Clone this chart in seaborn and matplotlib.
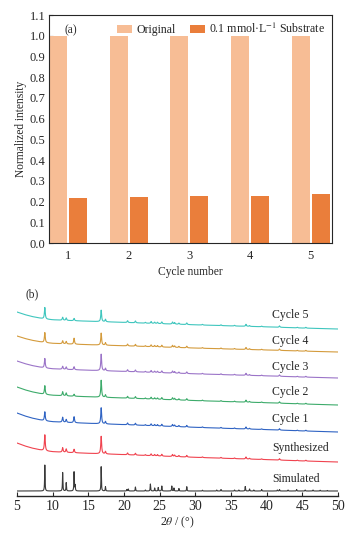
import numpy as np
import pandas as pd
import matplotlib
matplotlib.use("Agg")
import matplotlib.pyplot as plt
import seaborn as sns

sns.set_style("ticks")
plt.rcParams["font.family"] = ["Liberation Serif", "DejaVu Serif"]
plt.rcParams["mathtext.fontset"] = "stix"
plt.rcParams["font.size"] = 8

# ---- (a) normalized intensity per cycle
cycles = ["1", "2", "3", "4", "5"]
original = [1.0, 1.0, 1.0, 1.0, 1.0]
substrate = [0.215, 0.220, 0.225, 0.228, 0.238]
group_names = ["Original", "0.1 mmol\u00b7L$^{-1}$ Substrate"]

# ---- (b) XRD patterns, peak positions (2theta) and heights
exp_peaks = [8.9, 11.4, 11.9, 13.0, 16.8,
             17.4, 20.5, 21.6, 23.0, 23.8, 24.3, 24.7, 25.3, 26.8, 27.1, 27.7,
             28.8, 31.0, 33.6, 35.5, 37.1, 37.6, 39.3, 41.8, 44.3, 45.5]
minor_heights = [2.5, 1.8, 1.8, 0.8, 1.8, 1.3, 1.3, 1.8, 2.0, 1.5, 1.2,
                 1.6, 0.7, 0.8, 0.7, 2.0, 0.8, 0.6, 1.4, 0.6, 0.8]
main_cycle5 = [11.5, 3.0, 2.5, 2.3, 11.5]
main_cycle4 = [10.0, 3.0, 2.5, 6.0, 12.0]
main_cycle3 = [9.5, 3.0, 2.5, 3.0, 16.5]
main_cycle2 = [8.7, 4.0, 3.0, 2.0, 17.0]
main_cycle1 = [9.0, 5.0, 3.0, 6.0, 16.0]
main_synth = [16.0, 4.5, 3.5, 3.5, 17.5]

# background shape (relative to the value at 50 deg)
bg_x = [5, 6, 7, 8, 9, 10, 12, 15, 17, 20, 25, 30, 35, 40, 45, 50]
bg_rel = [17.5, 15, 13, 11.5, 10.2, 9.5, 8.8, 8, 7.5, 6.8, 5.5, 4.3, 3.2, 2.2, 1, 0]

# pattern name, baseline at 50 deg, low-angle drop, main peaks
pattern_names = ["Cycle 5", "Cycle 4", "Cycle 3", "Cycle 2", "Cycle 1", "Synthesized"]
pattern_base = [167, 144, 118, 91, 64, 34]
pattern_drop = [17, 16, 17, 18, 19, 19]
pattern_main = [main_cycle5, main_cycle4, main_cycle3, main_cycle2, main_cycle1, main_synth]
label_y = [181, 155, 129, 104, 77, 48]

sim_peaks = [8.9, 11.4, 11.9, 13.0, 13.15, 16.8, 17.4, 20.4, 20.6, 21.6, 23.0, 23.7,
             24.3, 24.8, 25.3, 26.7, 27.0, 27.7, 28.8, 31.0, 33.0, 33.6, 35.5, 36.1,
             37.0, 37.6, 38.2, 39.3, 41.5, 41.8, 43.0, 44.2, 45.4, 46.5, 47.5, 48.5]
sim_heights = [26, 18.5, 8.3, 19, 6, 24.3, 4.3, 1.5, 2, 4, 1, 7, 3, 3.5, 5, 5, 3, 2.5,
               4.3, 0.8, 1, 1.5, 1, 1, 4.5, 2, 1, 1.5, 1, 1.5, 1, 1.5, 1, 1, 0.8, 0.5]
sim_base = 5

colors = ["#3FC6BE", "#D49B3C", "#9B74C8", "#3DAB6B", "#2F63C3", "#F0434F"]
sim_color = "#3A3A3A"
bar_colors = ["#F7BD95", "#EA7E3B"]

two_theta = np.arange(5, 50.0001, 0.02)


def profile(peaks, heights, hw):
    out = np.zeros_like(two_theta)
    for p, h in zip(peaks, heights):
        out += h * hw**2 / ((two_theta - p) ** 2 + hw**2)
    return out


rows = []
for name, base, drop, main in zip(pattern_names, pattern_base, pattern_drop, pattern_main):
    bg = base + np.interp(two_theta, bg_x, bg_rel) * drop / 17.5
    y = bg + profile(exp_peaks, main + minor_heights, 0.07)
    rows.append(pd.DataFrame({"tt": two_theta, "I": y, "pattern": name}))
sim_y = sim_base + profile(sim_peaks, sim_heights, 0.035)
rows.append(pd.DataFrame({"tt": two_theta, "I": sim_y, "pattern": "Simulated"}))
xrd = pd.concat(rows, ignore_index=True)

bars = pd.DataFrame({
    "cycle": cycles * 2,
    "value": original + substrate,
    "group": [group_names[0]] * 5 + [group_names[1]] * 5,
})

fig = plt.figure(figsize=(3.61, 5.35), dpi=100)
ax1 = fig.add_axes([49 / 361, 1 - 243 / 535, 283 / 361, 228 / 535])
ax2 = fig.add_axes([17 / 361, 1 - 496 / 535, 321 / 361, 196 / 535])

sns.barplot(data=bars, x="cycle", y="value", hue="group", palette=bar_colors,
            width=0.66, gap=0.1, saturation=1, linewidth=0, ax=ax1)
ax1.set_xlim(-0.31, 4.35)
ax1.set_ylim(0, 1.1)
ax1.set_yticks(np.arange(0, 1.11, 0.1))
ax1.set_yticklabels([f"{v:.1f}" for v in np.arange(0, 1.11, 0.1)])
ax1.set_xlabel("Cycle number", fontsize=8.3, labelpad=3)
ax1.set_ylabel("Normalized intensity", fontsize=8.3, labelpad=2)
ax1.tick_params(direction="in", length=3, width=0.8, labelsize=9, pad=2.5)
ax1.tick_params(axis="x", length=0, pad=5)
for s in ax1.spines.values():
    s.set_linewidth(0.8)
h, l = ax1.get_legend_handles_labels()
ax1.legend(h, l, loc="upper right", ncol=2, frameon=False, fontsize=8.6,
           handlelength=1.25, handleheight=0.7, columnspacing=1.2,
           handletextpad=0.35, borderaxespad=0.2, bbox_to_anchor=(1.0, 1.0))
ax1.text(0.055, 0.96, "(a)", transform=ax1.transAxes, ha="left", va="top", fontsize=8.3)

sns.lineplot(data=xrd, x="tt", y="I", hue="pattern",
             palette=colors + [sim_color], estimator=None, sort=False,
             linewidth=0.8, legend=False, ax=ax2)
ax2.set_xlim(5, 50)
ax2.set_ylim(0, 196)
ax2.set_xticks(np.arange(5, 51, 5))
ax2.set_yticks([])
ax2.set_ylabel("")
ax2.set_xlabel(r"2$\theta$ / (°)", fontsize=8.5, labelpad=1)
for side in ["left", "right", "top"]:
    ax2.spines[side].set_visible(False)
ax2.spines["bottom"].set_linewidth(1.0)
ax2.tick_params(axis="x", direction="in", length=3, width=0.8, labelsize=10, pad=3)
for name, ly in zip(pattern_names + ["Simulated"], label_y + [17]):
    ax2.text(40.8, ly, name, ha="left", va="center", fontsize=8.5)
fig.text(25 / 361, 1 - 294 / 535, "(b)", ha="left", va="center", fontsize=8.3)

fig.savefig("out.png", dpi=100)
